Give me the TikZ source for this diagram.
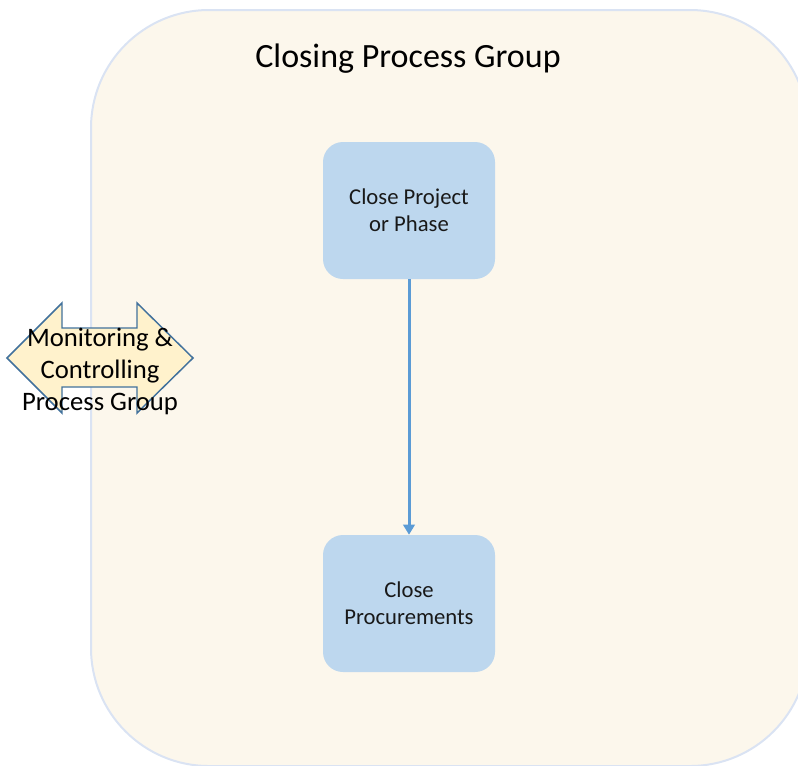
\documentclass[tikz,border=0pt]{standalone}
\usepackage{fontspec}
\setmainfont{Carlito}
\usetikzlibrary{arrows.meta}
\definecolor{panelfill}{HTML}{FCF7EC}
\definecolor{panelline}{HTML}{DAE3F3}
\definecolor{boxfill}{HTML}{BDD7EE}
\definecolor{flowblue}{HTML}{5B9BD5}
\definecolor{mcfill}{HTML}{FFF2CC}
\definecolor{mcline}{HTML}{41719C}
\tikzset{
  panel/.style={fill=panelfill, draw=panelline, line width=1.5pt, rounded corners=88.5pt},
  grouptitle/.style={font=\fontsize{25.5}{30}\selectfont, text=black},
  procbox/.style={fill=boxfill, draw=none, rounded corners=15pt,
    minimum width=129pt, minimum height=102.75pt, align=center,
    font=\fontsize{17}{20.25}\selectfont, text=black!90},
  flow/.style={draw=flowblue, line width=2.25pt,
    -{Triangle[length=7.5pt,width=8.5pt]}},
  linkarrow/.style={fill=mcfill, draw=mcline, line width=1.1pt, line join=miter},
  linktext/.style={align=center, font=\fontsize{20}{24}\selectfont, text=black}
}
\begin{document}
\begin{tikzpicture}[x=0.75pt,y=-0.75pt]
\useasboundingbox (0,0) rectangle (798,765);
\clip (0,0) rectangle (798,765);
% group panel
\path[panel] (91,10) rectangle (808,766);
\node[grouptitle] (title) at (408,59) {Closing Process Group};
% processes
\node[procbox] (close) at (409,210.5) {Close Project\\or Phase};
\node[procbox] (procure) at (409,603.5) {Close\\Procurements};
\draw[flow] (close) -- (procure);
% link to the monitoring and controlling group
\path[linkarrow] (7,358) -- (62,303) -- (62,328) -- (137,328) -- (137,303)
  -- (193,358) -- (137,413) -- (137,387) -- (62,387) -- (62,413) -- cycle;
\node[linktext] (mclabel) at (100,371) {Monitoring \&\\Controlling\\Process Group};
\end{tikzpicture}
\end{document}
